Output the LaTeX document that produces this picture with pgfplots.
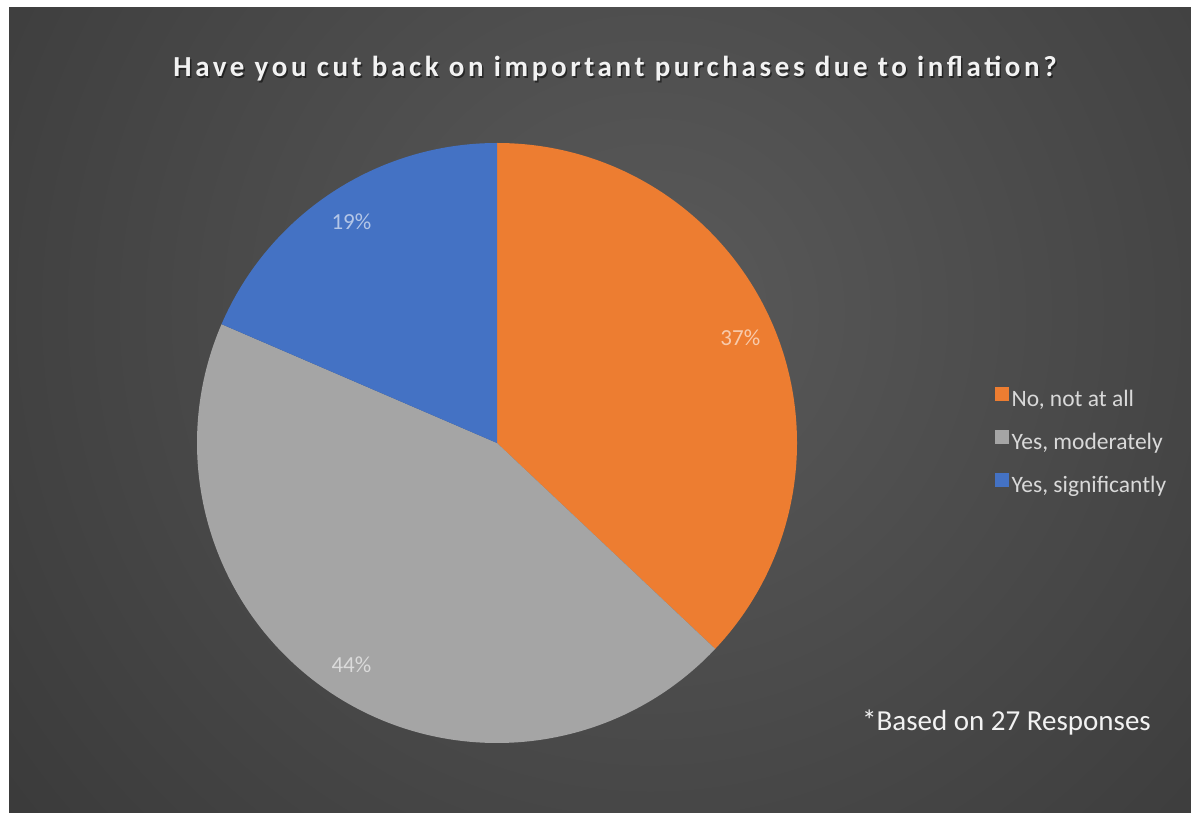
\documentclass[border=0pt]{standalone}
\usepackage{pgfplots}
\pgfplotsset{compat=1.18}
\usepackage{pgfplotstable}
\usepackage{fontspec}
\setmainfont{Carlito}

\definecolor{orng}{HTML}{ED7D31}
\definecolor{gry}{HTML}{A5A5A5}
\definecolor{blu}{HTML}{4472C4}
\definecolor{bginner}{HTML}{5A5A5A}
\definecolor{bgouter}{HTML}{222222}
\definecolor{legtext}{HTML}{D9D9D9}

% answers of 27 respondents
\pgfplotstableread{
count color
10 orng
12 gry
5  blu
}\piedata

\begin{document}
\begin{tikzpicture}[x=1pt,y=1pt]
% background
\fill[white] (0,0) rectangle (1191,812);
\begin{scope}
  \clip (9,0) rectangle (1191,804);
  \shade[inner color=bginner, outer color=bgouter] (650,500) circle (1450);
\end{scope}

% slice angles from the counts
\pgfplotstablegetrowsof{\piedata}
\pgfmathtruncatemacro\lastrow{\pgfplotsretval-1}
\gdef\total{0}
\foreach \i in {0,...,\lastrow}{%
  \pgfplotstablegetelem{\i}{count}\of\piedata
  \pgfmathsetmacro\t{\total+\pgfplotsretval}%
  \global\let\total\t
}
\gdef\cum{0}
\foreach \i in {0,...,\lastrow}{%
  \pgfplotstablegetelem{\i}{count}\of\piedata
  \let\v\pgfplotsretval
  \pgfmathsetmacro\a{90-360*\cum/\total}%
  \pgfmathsetmacro\c{\cum+\v}%
  \pgfmathsetmacro\b{90-360*\c/\total}%
  \pgfmathsetmacro\m{(\a+\b)/2}%
  \pgfmathtruncatemacro\p{round(100*\v/\total)}%
  \expandafter\xdef\csname pieA\i\endcsname{\a}%
  \expandafter\xdef\csname pieB\i\endcsname{\b}%
  \expandafter\xdef\csname pieM\i\endcsname{\m}%
  \expandafter\xdef\csname pieP\i\endcsname{\p}%
  \pgfplotstablegetelem{\i}{color}\of\piedata
  \xglobal\colorlet{slice\i}{\pgfplotsretval}%
  \global\let\cum\c
}

% title
\node[anchor=base, inner sep=0pt, text=black, opacity=0.5,
  font=\fontsize{29}{33}\selectfont\bfseries\addfontfeatures{LetterSpace=12.5}]
  at (616.5,733.5) {Have you cut back on important purchases due to inflation?};
\node[anchor=base, inner sep=0pt, text=white!95!black,
  font=\fontsize{29}{33}\selectfont\bfseries\addfontfeatures{LetterSpace=12.5}]
  at (615,735) {Have you cut back on important purchases due to inflation?};

\begin{axis}[
  at={(497pt,369pt)}, anchor=origin,
  scale only axis, width=600pt, height=600pt,
  xmin=-1, xmax=1, ymin=-1, ymax=1,
  hide axis, clip=false,
  legend cell align=left,
  legend style={at={(1.33,0.502)}, anchor=west, draw=none, fill=none,
    inner sep=0pt, text=legtext, row sep=20pt,
    font=\fontsize{23.5}{27}\selectfont,
    nodes={inner xsep=3pt}},
]
\pgfplotsinvokeforeach{0,1,2}{
  \fill[fill=slice#1] (axis cs:0,0) -- ++(\csname pieA#1\endcsname:300pt)
    arc[start angle=\csname pieA#1\endcsname, end angle=\csname pieB#1\endcsname, radius=300pt] -- cycle;
}
\pgfplotsinvokeforeach{0,1,2}{
  \path (axis cs:0,0) ++(\csname pieM#1\endcsname:265pt)
    node[text=white, text opacity=0.6, font=\fontsize{23}{27}\selectfont] {\csname pieP#1\endcsname\%};
}
\addlegendimage{legend image code/.code={\fill[orng] (0pt,-1pt) rectangle (13pt,12pt);}}
\addlegendentry{No, not at all}
\addlegendimage{legend image code/.code={\fill[gry] (0pt,-1pt) rectangle (13pt,12pt);}}
\addlegendentry{Yes, moderately}
\addlegendimage{legend image code/.code={\fill[blu] (0pt,-1pt) rectangle (13pt,12pt);}}
\addlegendentry{Yes, significantly}
\end{axis}

\node[anchor=base west, inner sep=0pt, text=white!95!black,
  font=\fontsize{29}{34}\selectfont] at (862,82) {*Based on 27 Responses};
\end{tikzpicture}
\end{document}
